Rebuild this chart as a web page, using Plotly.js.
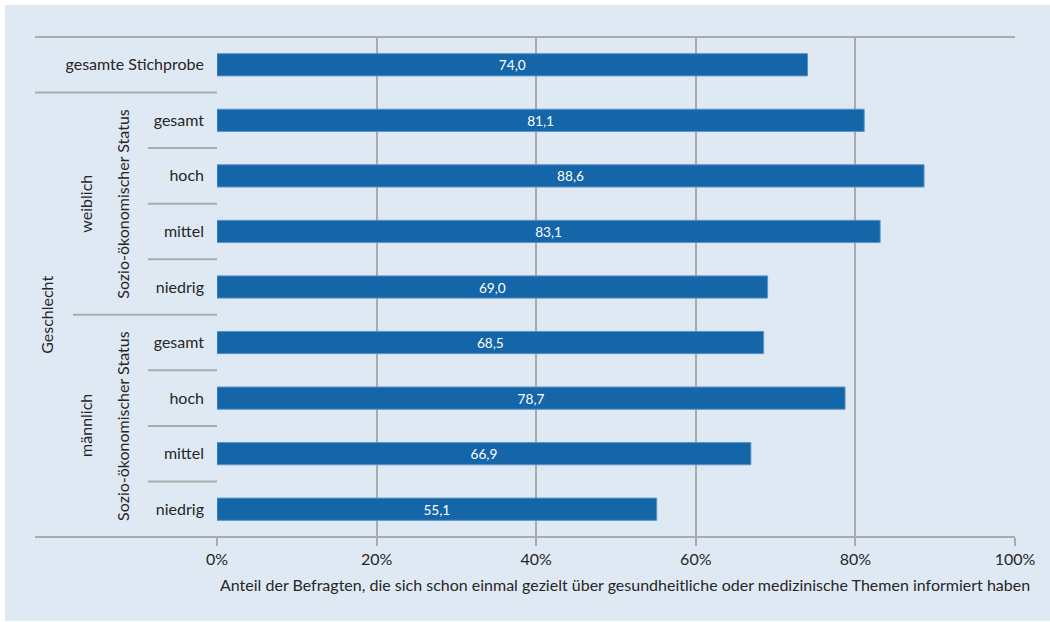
<!DOCTYPE html>
<html>
<head>
<meta charset="utf-8">
<script src="https://cdn.plot.ly/plotly-3.0.1.min.js"></script>
<style>
  html, body { margin: 0; padding: 0; background: #ffffff; }
  #chart { position: absolute; left: 5px; top: 5px; width: 1045px; height: 616px; }
</style>
</head>
<body>
<div id="chart"></div>
<script>
// ---- data ----
const categories = ['gesamte Stichprobe', 'gesamt', 'hoch', 'mittel', 'niedrig', 'gesamt', 'hoch', 'mittel', 'niedrig'];
const values = [74.0, 81.1, 88.6, 83.1, 69.0, 68.5, 78.7, 66.9, 55.1];
const genderLabels = ['weiblich', 'männlich'];
const statusLabel = 'Sozio-ökonomischer Status';
const outerLabel = 'Geschlecht';
const xTickVals = [0, 20, 40, 60, 80, 100];
const xTitle = 'Anteil der Befragten, die sich schon einmal gezielt über gesundheitliche oder medizinische Themen informiert haben';

// ---- style ----
const FONT = 'Lato, "Open Sans", sans-serif';
const TXT = '#262626';
const GRID = '#ababab';
const BG = '#dfe9f4';
const FS = 16;

const idx = categories.map((_, i) => i);
const labels = values.map(v => v.toFixed(1).replace('.', ','));

const trace = {
  type: 'bar',
  orientation: 'h',
  x: values,
  y: idx,
  width: 0.4,
  text: labels,
  textposition: 'inside',
  insidetextanchor: 'middle',
  textangle: 0,
  textfont: { family: FONT, size: FS, color: '#ffffff' },
  marker: { color: '#1565a9', line: { color: '#5b93c9', width: 1 } },
  hoverinfo: 'skip'
};

const px = p => (p - 217) / 798; // pixel (page) -> paper x

const shapes = [];
const line = (x0, x1, y0, y1, yref) => ({
  type: 'line', xref: 'paper', yref: yref || 'y', x0, x1, y0, y1,
  line: { color: GRID, width: 2 }, layer: 'above'
});
// top and bottom frame lines
shapes.push(line(px(35), 1, 1, 1, 'paper'));
shapes.push(line(px(35), 1, 0, 0, 'paper'));
// separator after overall sample
shapes.push(line(px(35), 0, 0.5, 0.5));
// separator between gender groups
shapes.push(line(px(73), 0, 4.5, 4.5));
// separators within status groups
[1.5, 2.5, 3.5, 5.5, 6.5, 7.5].forEach(y => shapes.push(line(px(148), 0, y, y)));

const annotations = [];
const rot = (text, xp, y) => ({
  text, xref: 'paper', yref: 'y', x: xp, y, textangle: -90,
  showarrow: false, xanchor: 'center', yanchor: 'middle',
  font: { family: FONT, size: FS, color: TXT }
});
annotations.push(rot(outerLabel, px(47), 4.5));
annotations.push(rot(genderLabels[0], px(86), 2.5));
annotations.push(rot(genderLabels[1], px(86), 6.5));
annotations.push(rot(statusLabel, px(123), 2.5));
annotations.push(rot(statusLabel, px(123), 6.5));
annotations.push({
  text: xTitle, xref: 'paper', yref: 'paper', x: px(625), y: -0.095,
  showarrow: false, xanchor: 'center', yanchor: 'middle',
  font: { family: FONT, size: FS, color: TXT }
});

const layout = {
  width: 1045,
  height: 616,
  margin: { l: 212, r: 35, t: 32, b: 84 },
  paper_bgcolor: BG,
  plot_bgcolor: BG,
  showlegend: false,
  font: { family: FONT, size: FS, color: TXT },
  xaxis: {
    range: [0, 100],
    tickvals: xTickVals,
    ticktext: xTickVals.map(v => v + '%'),
    ticks: 'outside',
    ticklen: 8,
    tickwidth: 2,
    tickcolor: GRID,
    showgrid: true,
    gridcolor: GRID,
    gridwidth: 2,
    zeroline: false,
    showline: false,
    tickfont: { family: FONT, size: FS, color: TXT },
    fixedrange: true
  },
  yaxis: {
    range: [8.5, -0.5],
    tickvals: idx,
    ticktext: categories,
    ticks: '',
    ticklabelstandoff: 12,
    showgrid: false,
    zeroline: false,
    showline: false,
    tickfont: { family: FONT, size: FS, color: TXT },
    fixedrange: true
  },
  shapes,
  annotations
};

Plotly.newPlot('chart', [trace], layout, { displayModeBar: false, staticPlot: true });
</script>
</body>
</html>
